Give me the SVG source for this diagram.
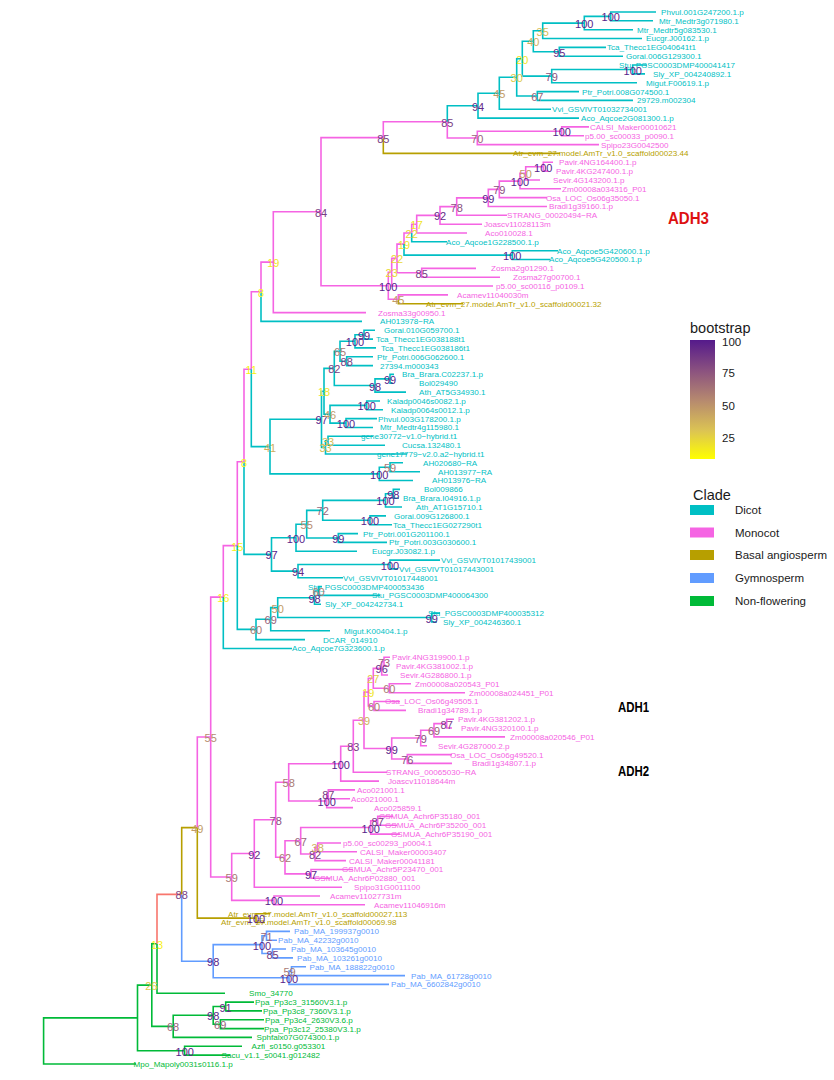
<svg xmlns="http://www.w3.org/2000/svg" width="834" height="1080" viewBox="0 0 834 1080">
<defs>
<linearGradient id="bsgrad" x1="0" y1="0" x2="0" y2="1">
<stop offset="0" stop-color="#551A8B"/>
<stop offset="0.264" stop-color="#8C537F"/>
<stop offset="0.514" stop-color="#B78B6E"/>
<stop offset="0.763" stop-color="#DCC453"/>
<stop offset="1" stop-color="#FFFF00"/>
</linearGradient>
</defs>
<style>
.e path{fill:none;stroke-width:1.6}
.d path{stroke:#00BFC4}.m path{stroke:#F564E3}.b path{stroke:#B79F00}.g path{stroke:#619CFF}.n path{stroke:#00BA38}.z path{stroke:#F8766D}
.tl text{font-family:"Liberation Sans",Arial,sans-serif;font-size:8.1px}
.td text{fill:#00BFC4}.tm text{fill:#F564E3}.tb text{fill:#B79F00}.tg text{fill:#619CFF}.tn text{fill:#00BA38}
.bs{font-family:"Liberation Sans",Arial,sans-serif;font-size:11px;text-anchor:middle}
.v100{fill:#571C8A}.v94{fill:#642A88}.v85{fill:#783E83}.v78{fill:#895080}.v70{fill:#98637A}.v60{fill:#A97973}.v55{fill:#B68A6E}.v48{fill:#C19B66}.v40{fill:#CFAF5D}.v34{fill:#D8BD56}.v28{fill:#E0CB49}.v22{fill:#E9DA33}.v18{fill:#F0E525}.v12{fill:#F7F114}
.adh{font-family:"Liberation Sans Narrow","Liberation Sans",Arial,sans-serif;font-weight:bold}
.lg{font-family:"Liberation Sans",Arial,sans-serif;fill:#1a1a1a}
</style>
<rect width="834" height="1080" fill="#ffffff"/>
<g id="connectors" class="e">
<g class="n">
<path d="M43.6 1040.9V1017.9H137.5"/><path d="M43.6 1040.9V1064H136"/>
<path d="M137.5 1017.9V985.1H151.8"/><path d="M137.5 1017.9V1050.7H184.6"/>
<path d="M151.8 985.1V943.8H157"/><path d="M151.8 985.1V1026.4H173.2"/>
<path d="M173.2 1026.4V1015.3H213.2"/><path d="M173.2 1026.4V1037.4H252"/>
<path d="M213.2 1015.3V1006.5H225.7"/><path d="M213.2 1015.3V1024.2H220.4"/>
<path d="M225.7 1006.5V1002.1H254"/><path d="M225.7 1006.5V1010.9H262"/>
<path d="M220.4 1024.2V1019.8H264"/><path d="M220.4 1024.2V1028.6H264"/>
<path d="M184.6 1050.7V1046.3H242"/><path d="M184.6 1050.7V1055.1H230"/>
<path d="M157 943.8V993.2H225"/>
</g>
<g class="z"><path d="M157 943.8V894.4H181.7"/></g>
<g class="b">
<path d="M181.7 894.4V827.6H197.3"/><path d="M197.3 827.6V918.1H256"/>
<path d="M256 918.1V913.7H270"/><path d="M256 918.1V922.5H265"/>
<path d="M383.3 137.6V153.4H560"/><path d="M398.3 299.3V303.7H463"/>
</g>
<g class="g">
<path d="M181.7 894.4V961.2H213.2"/><path d="M213.2 961.2V944.6H262"/><path d="M213.2 961.2V977.8H289"/>
<path d="M262 944.6V935.8H266.5"/><path d="M262 944.6V953.5H272.5"/>
<path d="M266.5 935.8V931.4H290"/><path d="M266.5 935.8V940.2H277"/>
<path d="M272.5 953.5V949H286"/><path d="M272.5 953.5V957.9H293"/>
<path d="M289 977.8V971.1H291.5"/><path d="M289 977.8V984.4H389"/>
<path d="M291.5 971.1V966.7H306"/><path d="M291.5 971.1V975.6H405"/>
</g>
<g class="m">
<path d="M197.3 827.6V737H210.7"/><path d="M210.7 737V597.1H223.3"/><path d="M210.7 737V877H231.7"/>
<path d="M231.7 877V853.5H254.3"/><path d="M231.7 877V900.4H274"/>
<path d="M274 900.4V896H320"/><path d="M274 900.4V904.8H365"/>
<path d="M254.3 853.5V819.8H275.7"/><path d="M254.3 853.5V887.2H342"/>
<path d="M275.7 819.8V782.3H288.7"/><path d="M275.7 819.8V857.3H285"/>
<path d="M285 857.3V840.8H300.7"/><path d="M285 857.3V873.9H311"/>
<path d="M311 873.9V869.5H353"/><path d="M311 873.9V878.3H330"/>
<path d="M300.7 840.8V827.5H370.7"/><path d="M300.7 840.8V854H315"/>
<path d="M315 854V847.4H317.7"/><path d="M315 854V860.6H346"/>
<path d="M317.7 847.4V843H341"/><path d="M317.7 847.4V851.8H357"/>
<path d="M370.7 827.5V820.9H377.7"/><path d="M370.7 827.5V834.1H400"/>
<path d="M377.7 820.9V816.4H393"/><path d="M377.7 820.9V825.3H397"/>
<path d="M288.7 782.3V763.7H340.7"/><path d="M288.7 782.3V801H326.7"/>
<path d="M326.7 801V794.3H328.3"/><path d="M326.7 801V807.6H353"/>
<path d="M328.3 794.3V789.9H355"/><path d="M328.3 794.3V798.8H350"/>
<path d="M340.7 763.7V746.3H353.3"/><path d="M340.7 763.7V781.1H379"/>
<path d="M353.3 746.3V720.3H364"/><path d="M353.3 746.3V772.2H387"/>
<path d="M364 720.3V692.1H368.3"/><path d="M364 720.3V748.5H391.7"/>
<path d="M368.3 692.1V678.3H373.3"/><path d="M368.3 692.1V705.9H374"/>
<path d="M374 705.9V701.5H400"/><path d="M374 705.9V710.4H406"/>
<path d="M373.3 678.3V668.4H381.7"/><path d="M373.3 678.3V688.3H389.3"/>
<path d="M381.7 668.4V661.7H384"/><path d="M381.7 668.4V675H388"/>
<path d="M384 661.7V657.3H390"/><path d="M384 661.7V666.2H389"/>
<path d="M389.3 688.3V683.8H411"/><path d="M389.3 688.3V692.7H465"/>
<path d="M391.7 748.5V738H420.7"/><path d="M391.7 748.5V759H407.3"/>
<path d="M407.3 759V754.6H452"/><path d="M407.3 759V763.4H452"/>
<path d="M420.7 738V730.3H434"/><path d="M420.7 738V745.7H427"/>
<path d="M434 730.3V723.6H446.7"/><path d="M434 730.3V736.9H505"/>
<path d="M446.7 723.6V719.2H454"/><path d="M446.7 723.6V728H452"/>
<path d="M223.3 597.1V545.6H237.3"/><path d="M237.3 545.6V461.8H244"/>
<path d="M244 461.8V369.2H251.3"/><path d="M251.3 369.2V291.8H261"/>
<path d="M261 291.8V262.1H273.3"/>
<path d="M273.3 262.1V211.7H321"/><path d="M273.3 262.1V312.6H366"/>
<path d="M321 211.7V137.6H383.3"/><path d="M321 211.7V285.8H388.3"/>
<path d="M383.3 137.6V121.8H447.3"/><path d="M447.3 121.8V138H477.3"/>
<path d="M477.3 138V131.3H561.7"/><path d="M477.3 138V144.6H599"/>
<path d="M561.7 131.3V126.9H589"/><path d="M561.7 131.3V135.8H584"/>
<path d="M388.3 285.8V272.2H391.7"/><path d="M388.3 285.8V299.3H398.3"/>
<path d="M398.3 299.3V294.9H448"/>
<path d="M391.7 272.2V258.4H397"/><path d="M391.7 272.2V286H493"/>
<path d="M397 258.4V244.1H404"/><path d="M397 258.4V272.8H421.7"/>
<path d="M421.7 272.8V268.4H476"/><path d="M421.7 272.8V277.2H500"/>
<path d="M404 244.1V233H411.7"/><path d="M411.7 233V224.2H416.7"/>
<path d="M416.7 224.2V215.4H440"/><path d="M416.7 224.2V233H467"/>
<path d="M440 215.4V206.6H456.7"/><path d="M440 215.4V224.2H482"/>
<path d="M456.7 206.6V197.9H488.3"/><path d="M456.7 206.6V215.3H507"/>
<path d="M488.3 197.9V189.4H499.3"/><path d="M488.3 197.9V206.5H547"/>
<path d="M499.3 189.4V181.1H520"/><path d="M499.3 189.4V197.6H547"/>
<path d="M520 181.1V173.3H525.7"/><path d="M520 181.1V188.8H561"/>
<path d="M525.7 173.3V166.7H543.3"/><path d="M525.7 173.3V180H540"/>
<path d="M543.3 166.7V162.3H553"/><path d="M543.3 166.7V171.1H548"/>
</g>
<g class="d">
<path d="M223.3 597.1V648.5H292"/><path d="M237.3 545.6V629.4H256"/>
<path d="M256 629.4V619.2H270.7"/><path d="M256 629.4V639.6H305"/>
<path d="M270.7 619.2V607.6H277.7"/><path d="M270.7 619.2V630.8H330"/>
<path d="M277.7 607.6V597.7H314.5"/><path d="M277.7 607.6V617.5H431.7"/>
<path d="M314.5 597.7V591H318.5"/><path d="M314.5 597.7V604.3H321"/>
<path d="M318.5 591V586.6H322"/><path d="M318.5 591V595.4H380"/>
<path d="M431.7 617.5V613.1H440"/><path d="M431.7 617.5V622H437"/>
<path d="M244 461.8V554.4H271.5"/>
<path d="M271.5 554.4V537.7H296"/><path d="M271.5 554.4V571.1H298"/>
<path d="M298 571.1V564.5H390"/><path d="M298 571.1V577.8H343"/>
<path d="M390 564.5V560.1H440"/><path d="M390 564.5V568.9H398"/>
<path d="M296 537.7V524.2H306.7"/><path d="M296 537.7V551.2H357"/>
<path d="M306.7 524.2V510.4H322.7"/><path d="M306.7 524.2V538H338.3"/>
<path d="M338.3 538V533.6H358"/><path d="M338.3 538V542.4H387"/>
<path d="M322.7 510.4V500.4H385.5"/><path d="M322.7 510.4V520.3H370"/>
<path d="M370 520.3V515.9H386"/><path d="M370 520.3V524.7H392"/>
<path d="M385.5 500.4V493.8H393.3"/><path d="M385.5 500.4V507H402"/>
<path d="M393.3 493.8V489.4H400"/><path d="M393.3 493.8V498.2H399"/>
<path d="M251.3 369.2V446.6H270"/>
<path d="M270 446.6V419.3H321.5"/><path d="M270 446.6V473.9H379.3"/>
<path d="M379.3 473.9V467.3H390"/><path d="M379.3 473.9V480.5H413"/>
<path d="M390 467.3V462.8H403"/><path d="M390 467.3V471.7H420"/>
<path d="M321.5 419.3V391.3H324"/><path d="M321.5 419.3V447.4H325.5"/>
<path d="M325.5 447.4V440.7H328"/><path d="M325.5 447.4V454H407"/>
<path d="M328 440.7V436.3H373"/><path d="M328 440.7V445.2H385"/>
<path d="M324 391.3V368.4H334.3"/><path d="M324 391.3V414.2H330"/>
<path d="M330 414.2V405.4H366.7"/><path d="M330 414.2V423.1H346"/>
<path d="M366.7 405.4V401H380"/><path d="M366.7 405.4V409.8H383"/>
<path d="M346 423.1V418.6H377"/><path d="M346 423.1V427.5H373"/>
<path d="M334.3 368.4V351.2H340"/><path d="M334.3 368.4V385.5H375"/>
<path d="M375 385.5V378.9H390"/><path d="M375 385.5V392.1H406"/>
<path d="M390 378.9V374.4H394"/><path d="M390 378.9V383.3H393"/>
<path d="M340 351.2V341.3H355"/><path d="M340 351.2V361.2H346.7"/>
<path d="M346.7 361.2V356.8H373"/><path d="M346.7 361.2V365.6H373"/>
<path d="M355 341.3V334.7H364"/><path d="M355 341.3V347.9H376"/>
<path d="M364 334.7V330.2H375"/><path d="M364 334.7V339.1H373"/>
<path d="M261 291.8V321.4H362"/>
<path d="M447.3 121.8V105.7H478"/>
<path d="M478 105.7V93.3H499.3"/><path d="M478 105.7V118.1H579"/>
<path d="M499.3 93.3V77.3H516.7"/><path d="M499.3 93.3V109.2H551"/>
<path d="M516.7 77.3V58.7H522.3"/><path d="M516.7 77.3V96H537.3"/>
<path d="M537.3 96V91.6H579"/><path d="M537.3 96V100.4H633"/>
<path d="M522.3 58.7V41.3H533.3"/><path d="M522.3 58.7V76.1H551.7"/>
<path d="M551.7 76.1V69.5H632.7"/><path d="M551.7 76.1V82.7H637"/>
<path d="M632.7 69.5V65H647"/><path d="M632.7 69.5V73.9H645"/>
<path d="M533.3 41.3V30.8H542.7"/><path d="M533.3 41.3V51.8H559.3"/>
<path d="M559.3 51.8V47.4H606"/><path d="M559.3 51.8V56.2H623"/>
<path d="M542.7 30.8V23.1H584.3"/><path d="M542.7 30.8V38.5H642"/>
<path d="M584.3 23.1V16.4H610.7"/><path d="M584.3 23.1V29.7H633"/>
<path d="M610.7 16.4V12H656"/><path d="M610.7 16.4V20.8H653"/>
<path d="M411.7 233V241.8H447"/>
<path d="M404 244.1V255.1H512.3"/>
<path d="M512.3 255.1V250.7H558"/><path d="M512.3 255.1V259.5H550"/>
</g>
</g>
<g id="tips" class="tl">
<g id="tip-Phvul.001G247200.1.p" class="td"><text x="661" y="14.9">Phvul.001G247200.1.p</text></g>
<g id="tip-Mtr_Medtr3g071980.1" class="td"><text x="659" y="23.7">Mtr_Medtr3g071980.1</text></g>
<g id="tip-Mtr_Medtr5g083530.1" class="td"><text x="637" y="32.6">Mtr_Medtr5g083530.1</text></g>
<g id="tip-Eucgr.J00162.1.p" class="td"><text x="646" y="41.4">Eucgr.J00162.1.p</text></g>
<g id="tip-Tca_Thecc1EG040641t1" class="td"><text x="607" y="50.3">Tca_Thecc1EG040641t1</text></g>
<g id="tip-Gorai.006G129300.1" class="td"><text x="626" y="59.1">Gorai.006G129300.1</text></g>
<g id="tip-Stu_PGSC0003DMP400041417" class="td"><text x="619" y="67.9">Stu_PGSC0003DMP400041417</text></g>
<g id="tip-Sly_XP_004240892.1" class="td"><text x="653" y="76.8">Sly_XP_004240892.1</text></g>
<g id="tip-Migut.F00619.1.p" class="td"><text x="646" y="85.6">Migut.F00619.1.p</text></g>
<g id="tip-Ptr_Potri.008G074500.1" class="td"><text x="582" y="94.5">Ptr_Potri.008G074500.1</text></g>
<g id="tip-29729.m002304" class="td"><text x="637" y="103.3">29729.m002304</text></g>
<g id="tip-Vvi_GSVIVT01032734001" class="td"><text x="552" y="112.1">Vvi_GSVIVT01032734001</text></g>
<g id="tip-Aco_Aqcoe2G081300.1.p" class="td"><text x="581" y="121">Aco_Aqcoe2G081300.1.p</text></g>
<g id="tip-CALSI_Maker00010621" class="tm"><text x="590" y="129.8">CALSI_Maker00010621</text></g>
<g id="tip-p5.00_sc00033_p0090.1" class="tm"><text x="585" y="138.7">p5.00_sc00033_p0090.1</text></g>
<g id="tip-Spipo23G0042500" class="tm"><text x="601" y="147.5">Spipo23G0042500</text></g>
<g id="tip-Atr_scaffold00023.44" class="tb"><text x="513" y="156.3">Atr_evm_27.model.AmTr_v1.0_scaffold00023.44</text></g>
<g id="tip-Pavir.4NG164400.1.p" class="tm"><text x="559" y="165.2">Pavir.4NG164400.1.p</text></g>
<g id="tip-Pavir.4KG247400.1.p" class="tm"><text x="556" y="174">Pavir.4KG247400.1.p</text></g>
<g id="tip-Sevir.4G143200.1.p" class="tm"><text x="553" y="182.9">Sevir.4G143200.1.p</text></g>
<g id="tip-Zm00008a034316_P01" class="tm"><text x="562" y="191.7">Zm00008a034316_P01</text></g>
<g id="tip-Osa_LOC_Os06g35050.1" class="tm"><text x="546" y="200.5">Osa_LOC_Os06g35050.1</text></g>
<g id="tip-Bradi1g39160.1.p" class="tm"><text x="549" y="209.4">Bradi1g39160.1.p</text></g>
<g id="tip-STRANG_00020494-RA" class="tm"><text x="507" y="218.2">STRANG_00020494−RA</text></g>
<g id="tip-Joascv11028113m" class="tm"><text x="484" y="227.1">Joascv11028113m</text></g>
<g id="tip-Aco010028.1" class="tm"><text x="485" y="235.9">Aco010028.1</text></g>
<g id="tip-Aco_Aqcoe1G228500.1.p" class="td"><text x="446" y="244.7">Aco_Aqcoe1G228500.1.p</text></g>
<g id="tip-Aco_Aqcoe5G420600.1.p" class="td"><text x="557" y="253.6">Aco_Aqcoe5G420600.1.p</text></g>
<g id="tip-Aco_Aqcoe5G420500.1.p" class="td"><text x="549" y="262.4">Aco_Aqcoe5G420500.1.p</text></g>
<g id="tip-Zosma2g01290.1" class="tm"><text x="491" y="271.3">Zosma2g01290.1</text></g>
<g id="tip-Zosma27g00700.1" class="tm"><text x="513" y="280.1">Zosma27g00700.1</text></g>
<g id="tip-p5.00_sc00116_p0109.1" class="tm"><text x="496" y="288.9">p5.00_sc00116_p0109.1</text></g>
<g id="tip-Acamev11040030m" class="tm"><text x="457" y="297.8">Acamev11040030m</text></g>
<g id="tip-Atr_scaffold00021.32" class="tb"><text x="426" y="306.6">Atr_evm_27.model.AmTr_v1.0_scaffold00021.32</text></g>
<g id="tip-Zosma33g00950.1" class="tm"><text x="378" y="315.5">Zosma33g00950.1</text></g>
<g id="tip-AH013978-RA" class="td"><text x="380" y="324.3">AH013978−RA</text></g>
<g id="tip-Gorai.010G059700.1" class="td"><text x="384" y="333.1">Gorai.010G059700.1</text></g>
<g id="tip-Tca_Thecc1EG038188t1" class="td"><text x="376" y="342">Tca_Thecc1EG038188t1</text></g>
<g id="tip-Tca_Thecc1EG038186t1" class="td"><text x="381" y="350.8">Tca_Thecc1EG038186t1</text></g>
<g id="tip-Ptr_Potri.006G062600.1" class="td"><text x="377" y="359.7">Ptr_Potri.006G062600.1</text></g>
<g id="tip-27394.m000343" class="td"><text x="380" y="368.5">27394.m000343</text></g>
<g id="tip-Bra_Brara.C02237.1.p" class="td"><text x="402" y="377.3">Bra_Brara.C02237.1.p</text></g>
<g id="tip-Bol029490" class="td"><text x="419" y="386.2">Bol029490</text></g>
<g id="tip-Ath_AT5G34930.1" class="td"><text x="419" y="395">Ath_AT5G34930.1</text></g>
<g id="tip-Kaladp0046s0082.1.p" class="td"><text x="387" y="403.9">Kaladp0046s0082.1.p</text></g>
<g id="tip-Kaladp0064s0012.1.p" class="td"><text x="391" y="412.7">Kaladp0064s0012.1.p</text></g>
<g id="tip-Phvul.003G178200.1.p" class="td"><text x="378" y="421.5">Phvul.003G178200.1.p</text></g>
<g id="tip-Mtr_Medtr4g115980.1" class="td"><text x="380" y="430.4">Mtr_Medtr4g115980.1</text></g>
<g id="tip-gene30772-v1.0-hybrid.t1" class="td"><text x="361" y="439.2">gene30772−v1.0−hybrid.t1</text></g>
<g id="tip-Cucsa.132480.1" class="td"><text x="402" y="448.1">Cucsa.132480.1</text></g>
<g id="tip-gene17779-v2.0.a2-hybrid.t1" class="td"><text x="377" y="456.9">gene17779−v2.0.a2−hybrid.t1</text></g>
<g id="tip-AH020680-RA" class="td"><text x="423" y="465.7">AH020680−RA</text></g>
<g id="tip-AH013977-RA" class="td"><text x="438" y="474.6">AH013977−RA</text></g>
<g id="tip-AH013976-RA" class="td"><text x="432" y="483.4">AH013976−RA</text></g>
<g id="tip-Bol009866" class="td"><text x="424" y="492.3">Bol009866</text></g>
<g id="tip-Bra_Brara.I04916.1.p" class="td"><text x="403" y="501.1">Bra_Brara.I04916.1.p</text></g>
<g id="tip-Ath_AT1G15710.1" class="td"><text x="416" y="509.9">Ath_AT1G15710.1</text></g>
<g id="tip-Gorai.009G126800.1" class="td"><text x="394" y="518.8">Gorai.009G126800.1</text></g>
<g id="tip-Tca_Thecc1EG027290t1" class="td"><text x="393" y="527.6">Tca_Thecc1EG027290t1</text></g>
<g id="tip-Ptr_Potri.001G201100.1" class="td"><text x="363" y="536.5">Ptr_Potri.001G201100.1</text></g>
<g id="tip-Ptr_Potri.003G030600.1" class="td"><text x="389" y="545.3">Ptr_Potri.003G030600.1</text></g>
<g id="tip-Eucgr.J03082.1.p" class="td"><text x="372" y="554.1">Eucgr.J03082.1.p</text></g>
<g id="tip-Vvi_GSVIVT01017439001" class="td"><text x="441" y="563">Vvi_GSVIVT01017439001</text></g>
<g id="tip-Vvi_GSVIVT01017443001" class="td"><text x="399" y="571.8">Vvi_GSVIVT01017443001</text></g>
<g id="tip-Vvi_GSVIVT01017448001" class="td"><text x="343" y="580.7">Vvi_GSVIVT01017448001</text></g>
<g id="tip-Stu_PGSC0003DMP400053436" class="td"><text x="308" y="589.5">Stu_PGSC0003DMP400053436</text></g>
<g id="tip-Stu_PGSC0003DMP400064300" class="td"><text x="372" y="598.3">Stu_PGSC0003DMP400064300</text></g>
<g id="tip-Sly_XP_004242734.1" class="td"><text x="325" y="607.2">Sly_XP_004242734.1</text></g>
<g id="tip-Stu_PGSC0003DMP400035312" class="td"><text x="428" y="616">Stu_PGSC0003DMP400035312</text></g>
<g id="tip-Sly_XP_004246360.1" class="td"><text x="443" y="624.9">Sly_XP_004246360.1</text></g>
<g id="tip-Migut.K00404.1.p" class="td"><text x="344" y="633.7">Migut.K00404.1.p</text></g>
<g id="tip-DCAR_014910" class="td"><text x="323" y="642.5">DCAR_014910</text></g>
<g id="tip-Aco_Aqcoe7G323600.1.p" class="td"><text x="292" y="651.4">Aco_Aqcoe7G323600.1.p</text></g>
<g id="tip-Pavir.4NG319900.1.p" class="tm"><text x="392" y="660.2">Pavir.4NG319900.1.p</text></g>
<g id="tip-Pavir.4KG381002.1.p" class="tm"><text x="396" y="669.1">Pavir.4KG381002.1.p</text></g>
<g id="tip-Sevir.4G286800.1.p" class="tm"><text x="400" y="677.9">Sevir.4G286800.1.p</text></g>
<g id="tip-Zm00008a020543_P01" class="tm"><text x="415" y="686.7">Zm00008a020543_P01</text></g>
<g id="tip-Zm00008a024451_P01" class="tm"><text x="469" y="695.6">Zm00008a024451_P01</text></g>
<g id="tip-Osa_LOC_Os06g49505.1" class="tm"><text x="385" y="704.4">Osa_LOC_Os06g49505.1</text></g>
<g id="tip-Bradi1g34789.1.p" class="tm"><text x="418" y="713.3">Bradi1g34789.1.p</text></g>
<g id="tip-Pavir.4KG381202.1.p" class="tm"><text x="458" y="722.1">Pavir.4KG381202.1.p</text></g>
<g id="tip-Pavir.4NG320100.1.p" class="tm"><text x="461" y="730.9">Pavir.4NG320100.1.p</text></g>
<g id="tip-Zm00008a020546_P01" class="tm"><text x="510" y="739.8">Zm00008a020546_P01</text></g>
<g id="tip-Sevir.4G287000.2.p" class="tm"><text x="438" y="748.6">Sevir.4G287000.2.p</text></g>
<g id="tip-Osa_LOC_Os06g49520.1" class="tm"><text x="450" y="757.5">Osa_LOC_Os06g49520.1</text></g>
<g id="tip-Bradi1g34807.1.p" class="tm"><text x="472" y="766.3">Bradi1g34807.1.p</text></g>
<g id="tip-STRANG_00065030-RA" class="tm"><text x="386" y="775.1">STRANG_00065030−RA</text></g>
<g id="tip-Joascv11018644m" class="tm"><text x="388" y="784">Joascv11018644m</text></g>
<g id="tip-Aco021001.1" class="tm"><text x="357" y="792.8">Aco021001.1</text></g>
<g id="tip-Aco021000.1" class="tm"><text x="351" y="801.7">Aco021000.1</text></g>
<g id="tip-Aco025859.1" class="tm"><text x="374" y="810.5">Aco025859.1</text></g>
<g id="tip-GSMUA_Achr6P35180_001" class="tm"><text x="379" y="819.3">GSMUA_Achr6P35180_001</text></g>
<g id="tip-GSMUA_Achr6P35200_001" class="tm"><text x="385" y="828.2">GSMUA_Achr6P35200_001</text></g>
<g id="tip-GSMUA_Achr6P35190_001" class="tm"><text x="391" y="837">GSMUA_Achr6P35190_001</text></g>
<g id="tip-p5.00_sc00293_p0004.1" class="tm"><text x="343" y="845.9">p5.00_sc00293_p0004.1</text></g>
<g id="tip-CALSI_Maker00003407" class="tm"><text x="360" y="854.7">CALSI_Maker00003407</text></g>
<g id="tip-CALSI_Maker00041181" class="tm"><text x="349" y="863.5">CALSI_Maker00041181</text></g>
<g id="tip-GSMUA_Achr5P23470_001" class="tm"><text x="342" y="872.4">GSMUA_Achr5P23470_001</text></g>
<g id="tip-GSMUA_Achr6P02880_001" class="tm"><text x="314" y="881.2">GSMUA_Achr6P02880_001</text></g>
<g id="tip-Spipo31G0011100" class="tm"><text x="354" y="890.1">Spipo31G0011100</text></g>
<g id="tip-Acamev11027731m" class="tm"><text x="330" y="898.9">Acamev11027731m</text></g>
<g id="tip-Acamev11046916m" class="tm"><text x="374" y="907.7">Acamev11046916m</text></g>
<g id="tip-Atr_scaffold00027.113" class="tb"><text x="228" y="916.6">Atr_evm_27.model.AmTr_v1.0_scaffold00027.113</text></g>
<g id="tip-Atr_scaffold00069.98" class="tb"><text x="221" y="925.4">Atr_evm_27.model.AmTr_v1.0_scaffold00069.98</text></g>
<g id="tip-Pab_MA_199937g0010" class="tg"><text x="294" y="934.3">Pab_MA_199937g0010</text></g>
<g id="tip-Pab_MA_42232g0010" class="tg"><text x="278" y="943.1">Pab_MA_42232g0010</text></g>
<g id="tip-Pab_MA_103645g0010" class="tg"><text x="291" y="951.9">Pab_MA_103645g0010</text></g>
<g id="tip-Pab_MA_103261g0010" class="tg"><text x="297" y="960.8">Pab_MA_103261g0010</text></g>
<g id="tip-Pab_MA_188822g0010" class="tg"><text x="309.5" y="969.6">Pab_MA_188822g0010</text></g>
<g id="tip-Pab_MA_61728g0010" class="tg"><text x="411" y="978.5">Pab_MA_61728g0010</text></g>
<g id="tip-Pab_MA_6602842g0010" class="tg"><text x="391" y="987.3">Pab_MA_6602842g0010</text></g>
<g id="tip-Smo_34770" class="tn"><text x="249" y="996.1">Smo_34770</text></g>
<g id="tip-Ppa_Pp3c3_31560V3.1.p" class="tn"><text x="255" y="1005">Ppa_Pp3c3_31560V3.1.p</text></g>
<g id="tip-Ppa_Pp3c8_7360V3.1.p" class="tn"><text x="263" y="1013.8">Ppa_Pp3c8_7360V3.1.p</text></g>
<g id="tip-Ppa_Pp3c4_2630V3.6.p" class="tn"><text x="265" y="1022.7">Ppa_Pp3c4_2630V3.6.p</text></g>
<g id="tip-Ppa_Pp3c12_25380V3.1.p" class="tn"><text x="264" y="1031.5">Ppa_Pp3c12_25380V3.1.p</text></g>
<g id="tip-Sphfalx07G074300.1.p" class="tn"><text x="256.5" y="1040.3">Sphfalx07G074300.1.p</text></g>
<g id="tip-Azfi_s0150.g053301" class="tn"><text x="251.5" y="1049.2">Azfi_s0150.g053301</text></g>
<g id="tip-Sacu_v1.1_s0041.g012482" class="tn"><text x="221.5" y="1058">Sacu_v1.1_s0041.g012482</text></g>
<g id="tip-Mpo_Mapoly0031s0116.1.p" class="tn"><text x="133.5" y="1066.9">Mpo_Mapoly0031s0116.1.p</text></g>
</g>
<g id="internal-nodes">
<g id="n-26"><text class="bs v28" x="151.3" y="990.1">26</text></g>
<g id="n-azfi100"><text class="bs v100" x="184.8" y="1055.7">100</text></g>
<g id="n-13"><text class="bs v12" x="157" y="948.8">13</text></g>
<g id="n-68"><text class="bs v70" x="173" y="1031.4">68</text></g>
<g id="n-ppa98"><text class="bs v100" x="213.2" y="1020.3">98</text></g>
<g id="n-ppa91"><text class="bs v94" x="225.5" y="1011.5">91</text></g>
<g id="n-ppa69"><text class="bs v70" x="220.2" y="1029.2">69</text></g>
<g id="n-88"><text class="bs v85" x="181.7" y="899.4">88</text></g>
<g id="n-49"><text class="bs v48" x="197.3" y="832.6">49</text></g>
<g id="n-gym98"><text class="bs v100" x="213.2" y="966.2">98</text></g>
<g id="n-gym100a"><text class="bs v100" x="262" y="949.6">100</text></g>
<g id="n-gym71"><text class="bs v70" x="266.5" y="940.8">71</text></g>
<g id="n-gym85"><text class="bs v85" x="272.5" y="958.5">85</text></g>
<g id="n-gym100b"><text class="bs v100" x="289" y="982.8">100</text></g>
<g id="n-gym59"><text class="bs v60" x="289.5" y="976.1">59</text></g>
<g id="n-atr100"><text class="bs v100" x="256" y="923.1">100</text></g>
<g id="n-55"><text class="bs v55" x="210.7" y="742">55</text></g>
<g id="n-mono59"><text class="bs v60" x="231.7" y="882">59</text></g>
<g id="n-mono92"><text class="bs v94" x="254.3" y="858.5">92</text></g>
<g id="n-acamev100"><text class="bs v100" x="274" y="905.4">100</text></g>
<g id="n-mono78"><text class="bs v78" x="275.7" y="824.8">78</text></g>
<g id="n-58"><text class="bs v60" x="288.7" y="787.3">58</text></g>
<g id="n-62"><text class="bs v60" x="285" y="862.3">62</text></g>
<g id="n-67c"><text class="bs v70" x="300.7" y="845.8">67</text></g>
<g id="n-gsm97"><text class="bs v100" x="311" y="878.9">97</text></g>
<g id="n-gsm100"><text class="bs v100" x="370.7" y="832.5">100</text></g>
<g id="n-gsm87"><text class="bs v85" x="377.7" y="825.9">87</text></g>
<g id="n-cal82"><text class="bs v85" x="315" y="859">82</text></g>
<g id="n-38"><text class="bs v40" x="317.7" y="852.4">38</text></g>
<g id="n-adh100"><text class="bs v100" x="340.7" y="768.7">100</text></g>
<g id="n-aco100"><text class="bs v100" x="326.7" y="806">100</text></g>
<g id="n-aco87"><text class="bs v85" x="328.3" y="799.3">87</text></g>
<g id="n-83"><text class="bs v85" x="353.3" y="751.3">83</text></g>
<g id="n-39"><text class="bs v40" x="364" y="725.3">39</text></g>
<g id="n-adh19"><text class="bs v18" x="368.3" y="697.1">19</text></g>
<g id="n-27"><text class="bs v28" x="373.3" y="683.3">27</text></g>
<g id="n-96"><text class="bs v94" x="381.7" y="673.4">96</text></g>
<g id="n-73"><text class="bs v70" x="384" y="666.7">73</text></g>
<g id="n-zm60"><text class="bs v60" x="389.3" y="693.3">60</text></g>
<g id="n-osa60"><text class="bs v60" x="374" y="710.9">60</text></g>
<g id="n-adh99"><text class="bs v100" x="391.7" y="753.5">99</text></g>
<g id="n-adh79"><text class="bs v78" x="420.7" y="743">79</text></g>
<g id="n-adh69"><text class="bs v70" x="434" y="735.3">69</text></g>
<g id="n-adh87"><text class="bs v85" x="446.7" y="728.6">87</text></g>
<g id="n-76"><text class="bs v78" x="407.3" y="764">76</text></g>
<g id="n-16"><text class="bs v12" x="223.3" y="602.1">16</text></g>
<g id="n-15"><text class="bs v12" x="237.3" y="550.6">15</text></g>
<g id="n-8b"><text class="bs v12" x="244" y="466.8">8</text></g>
<g id="n-dic60"><text class="bs v60" x="256" y="634.4">60</text></g>
<g id="n-dic69"><text class="bs v70" x="270.7" y="624.2">69</text></g>
<g id="n-dic50"><text class="bs v48" x="277.7" y="612.6">50</text></g>
<g id="n-stu98"><text class="bs v100" x="314.5" y="602.7">98</text></g>
<g id="n-stu60"><text class="bs v60" x="318.5" y="596">60</text></g>
<g id="n-stu99"><text class="bs v100" x="431.7" y="622.5">99</text></g>
<g id="n-11"><text class="bs v12" x="251.3" y="374.2">11</text></g>
<g id="n-dic97b"><text class="bs v100" x="271.5" y="559.4">97</text></g>
<g id="n-dic100e"><text class="bs v100" x="296" y="542.7">100</text></g>
<g id="n-dic55"><text class="bs v55" x="306.7" y="529.2">55</text></g>
<g id="n-72"><text class="bs v70" x="322.7" y="515.4">72</text></g>
<g id="n-bra100"><text class="bs v100" x="385.5" y="505.4">100</text></g>
<g id="n-bra98"><text class="bs v100" x="393.3" y="498.8">98</text></g>
<g id="n-gor100"><text class="bs v100" x="370" y="525.3">100</text></g>
<g id="n-ptr99"><text class="bs v100" x="338.3" y="543">99</text></g>
<g id="n-vvi94"><text class="bs v94" x="298" y="576.1">94</text></g>
<g id="n-vvi100"><text class="bs v100" x="390" y="569.5">100</text></g>
<g id="n-8a"><text class="bs v12" x="261" y="296.8">8</text></g>
<g id="n-41"><text class="bs v40" x="270" y="451.6">41</text></g>
<g id="n-dic97a"><text class="bs v100" x="321.5" y="424.3">97</text></g>
<g id="n-18"><text class="bs v18" x="324" y="396.3">18</text></g>
<g id="n-dic82"><text class="bs v85" x="334.3" y="373.4">82</text></g>
<g id="n-65"><text class="bs v60" x="340" y="356.2">65</text></g>
<g id="n-tca100"><text class="bs v100" x="355" y="346.3">100</text></g>
<g id="n-tca99"><text class="bs v100" x="364" y="339.7">99</text></g>
<g id="n-ptr88"><text class="bs v85" x="346.7" y="366.2">88</text></g>
<g id="n-ath98"><text class="bs v100" x="375" y="390.5">98</text></g>
<g id="n-bra99"><text class="bs v100" x="390" y="383.9">99</text></g>
<g id="n-46"><text class="bs v48" x="330" y="419.2">46</text></g>
<g id="n-kal100"><text class="bs v100" x="366.7" y="410.4">100</text></g>
<g id="n-phv100"><text class="bs v100" x="346" y="428.1">100</text></g>
<g id="n-33l"><text class="bs v34" x="325.5" y="452.4">33</text></g>
<g id="n-33u"><text class="bs v34" x="328" y="445.7">33</text></g>
<g id="n-ah100"><text class="bs v100" x="379.3" y="478.9">100</text></g>
<g id="n-ah59"><text class="bs v60" x="390" y="472.3">59</text></g>
<g id="n-top19"><text class="bs v18" x="273.3" y="267.1">19</text></g>
<g id="n-84"><text class="bs v85" x="321" y="216.7">84</text></g>
<g id="n-85l"><text class="bs v85" x="383.3" y="142.6">85</text></g>
<g id="n-85u"><text class="bs v85" x="447.3" y="126.8">85</text></g>
<g id="n-94"><text class="bs v94" x="478" y="110.7">94</text></g>
<g id="n-45u"><text class="bs v48" x="499.3" y="98.3">45</text></g>
<g id="n-30"><text class="bs v28" x="516.7" y="82.3">30</text></g>
<g id="n-20"><text class="bs v18" x="522.3" y="63.7">20</text></g>
<g id="n-40"><text class="bs v40" x="533.3" y="46.3">40</text></g>
<g id="n-35"><text class="bs v34" x="542.7" y="35.8">35</text></g>
<g id="n-mtr100"><text class="bs v100" x="584.3" y="28.1">100</text></g>
<g id="n-phv100u"><text class="bs v100" x="610.7" y="21.4">100</text></g>
<g id="n-95"><text class="bs v94" x="559.3" y="56.8">95</text></g>
<g id="n-79u"><text class="bs v78" x="551.7" y="81.1">79</text></g>
<g id="n-stu100u"><text class="bs v100" x="632.7" y="74.5">100</text></g>
<g id="n-67"><text class="bs v70" x="537.3" y="101">67</text></g>
<g id="n-70"><text class="bs v70" x="477.3" y="143">70</text></g>
<g id="n-cal100"><text class="bs v100" x="561.7" y="136.3">100</text></g>
<g id="n-m100"><text class="bs v100" x="388.3" y="290.8">100</text></g>
<g id="n-23"><text class="bs v22" x="391.7" y="277.2">23</text></g>
<g id="n-22b"><text class="bs v22" x="397" y="263.4">22</text></g>
<g id="n-19m"><text class="bs v18" x="404" y="249.1">19</text></g>
<g id="n-22a"><text class="bs v22" x="411.7" y="238">22</text></g>
<g id="n-17"><text class="bs v18" x="416.7" y="229.2">17</text></g>
<g id="n-92"><text class="bs v94" x="440" y="220.4">92</text></g>
<g id="n-78"><text class="bs v78" x="456.7" y="211.6">78</text></g>
<g id="n-99"><text class="bs v100" x="488.3" y="202.9">99</text></g>
<g id="n-79"><text class="bs v78" x="499.3" y="194.4">79</text></g>
<g id="n-zm100"><text class="bs v100" x="520" y="186.1">100</text></g>
<g id="n-50"><text class="bs v48" x="525.7" y="178.3">50</text></g>
<g id="n-pav100"><text class="bs v100" x="543.3" y="171.7">100</text></g>
<g id="n-aco5-100"><text class="bs v100" x="512.3" y="260.1">100</text></g>
<g id="n-zos85"><text class="bs v85" x="421.7" y="277.8">85</text></g>
<g id="n-45m"><text class="bs v48" x="398.3" y="304.3">45</text></g>
</g>
<g id="clade-labels">
<text class="adh" x="668" y="224" font-size="17" fill="#DD1111" textLength="41" lengthAdjust="spacingAndGlyphs">ADH3</text>
<text class="adh" x="618" y="711.5" font-size="14" fill="#000" textLength="31" lengthAdjust="spacingAndGlyphs">ADH1</text>
<text class="adh" x="618" y="775.5" font-size="14" fill="#000" textLength="31" lengthAdjust="spacingAndGlyphs">ADH2</text>
</g>
<g id="legend-bootstrap">
<text class="lg" x="690" y="333" font-size="14.5">bootstrap</text>
<rect x="690" y="340" width="25" height="119" fill="url(#bsgrad)"/>
<text class="lg" x="722" y="345.8" font-size="11.5">100</text>
<text class="lg" x="722" y="377.4" font-size="11.5">75</text>
<text class="lg" x="722" y="410.1" font-size="11.5">50</text>
<text class="lg" x="722" y="442.4" font-size="11.5">25</text>
</g>
<g id="legend-clade">
<text class="lg" x="693" y="500" font-size="14.5">Clade</text>
<rect x="690" y="505" width="24" height="10" fill="#00BFC4"/>
<text class="lg" x="735" y="514" font-size="11.5">Dicot</text>
<rect x="690" y="527.5" width="24" height="10" fill="#F564E3"/>
<text class="lg" x="735" y="536.5" font-size="11.5">Monocot</text>
<rect x="690" y="550" width="24" height="10" fill="#B79F00"/>
<text class="lg" x="735" y="559" font-size="11.5">Basal angiosperm</text>
<rect x="690" y="573" width="24" height="10" fill="#619CFF"/>
<text class="lg" x="735" y="582" font-size="11.5">Gymnosperm</text>
<rect x="690" y="596" width="24" height="10" fill="#00BA38"/>
<text class="lg" x="735" y="605" font-size="11.5">Non-flowering</text>
</g>
</svg>
